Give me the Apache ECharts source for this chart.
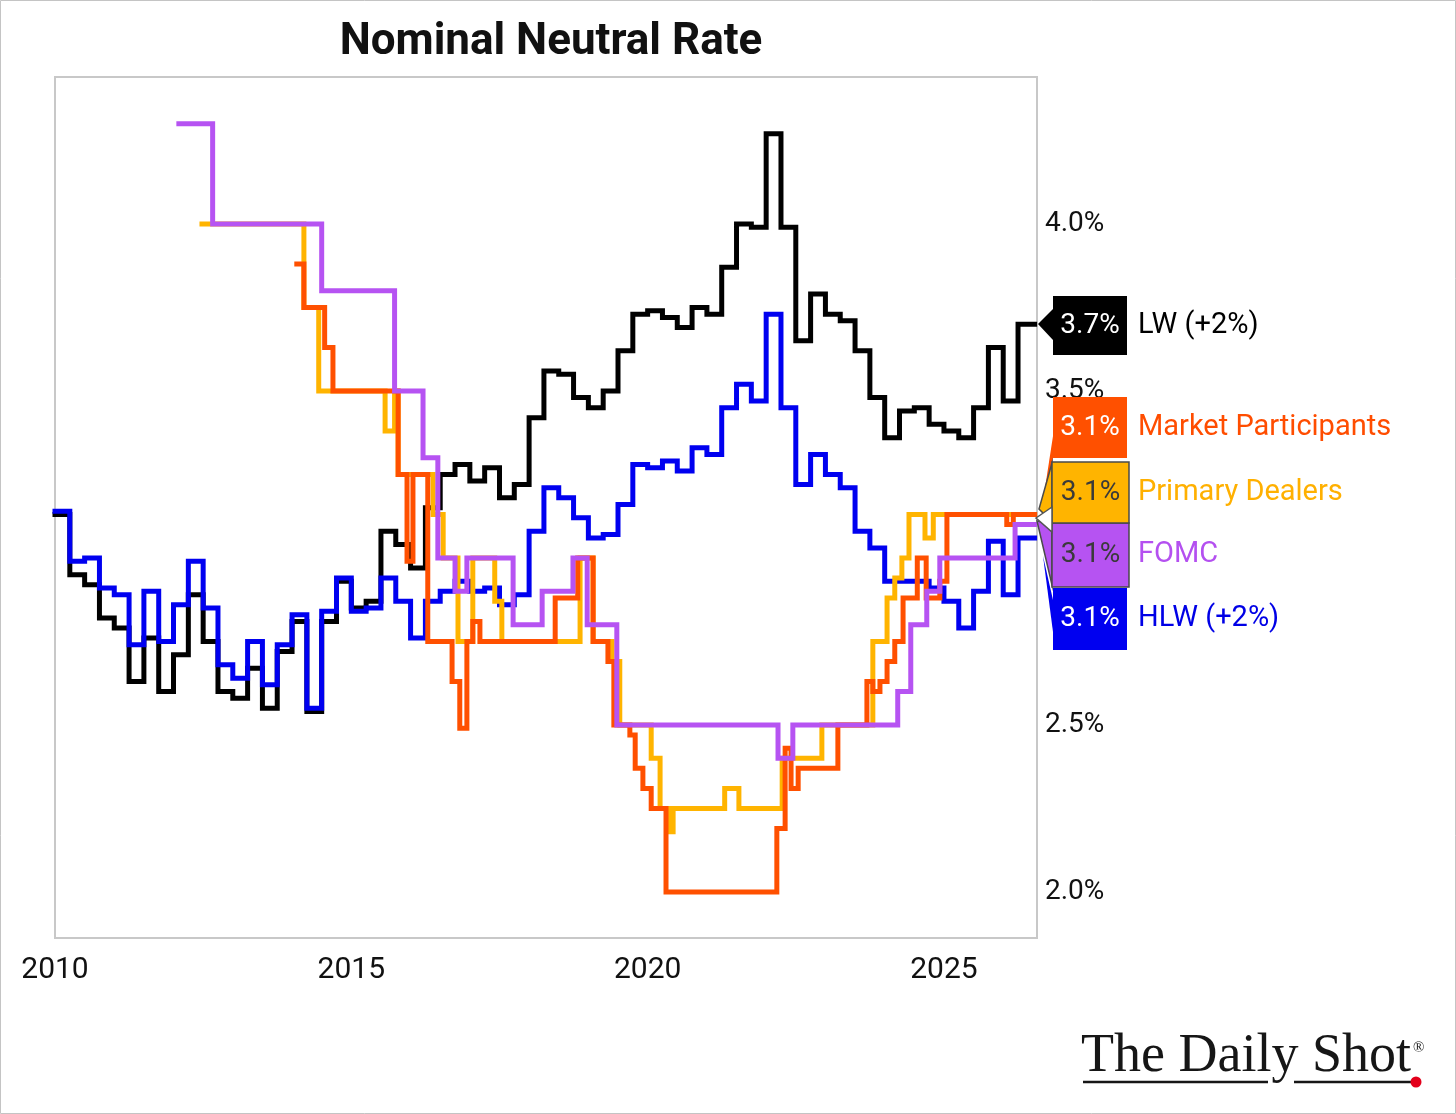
<!DOCTYPE html>
<html>
<head>
<meta charset="utf-8">
<title>Nominal Neutral Rate</title>
<script src="https://cdn.jsdelivr.net/npm/echarts@6.0.0/dist/echarts.min.js"></script>
<style>
  html, body { margin: 0; padding: 0; background: #fff; }
  #chart { width: 1456px; height: 1114px; }
</style>
</head>
<body>
<div id="chart"></div>
<script>
  // quarterly model estimates (2010Q1 ..), already shifted +2%
  var lwValues = [
    3.13, 2.95, 2.92, 2.82, 2.79, 2.63, 2.76, 2.60, 2.71, 2.89,
    2.75, 2.60, 2.58, 2.67, 2.55, 2.72, 2.81, 2.54, 2.81, 2.93,
    2.85, 2.87, 3.08, 3.04, 2.97, 3.15, 3.25, 3.28, 3.23, 3.27,
    3.18, 3.22, 3.42, 3.56, 3.55, 3.48, 3.45, 3.50, 3.62, 3.73,
    3.74, 3.72, 3.69, 3.75, 3.73, 3.87, 4.00, 3.99, 4.27, 3.99,
    3.65, 3.79, 3.73, 3.71, 3.62, 3.48, 3.36, 3.44, 3.45, 3.40,
    3.38, 3.36, 3.45, 3.63, 3.47, 3.70
  ]
  var hlwValues = [
    3.14, 2.99, 3.00, 2.91, 2.89, 2.74, 2.90, 2.75, 2.86, 2.99,
    2.85, 2.68, 2.64, 2.75, 2.62, 2.74, 2.83, 2.55, 2.84, 2.94,
    2.84, 2.85, 2.94, 2.87, 2.76, 2.87, 2.90, 2.93, 2.90, 2.91,
    2.86, 2.89, 3.08, 3.21, 3.18, 3.12, 3.06, 3.07, 3.16, 3.28,
    3.27, 3.29, 3.26, 3.33, 3.31, 3.45, 3.52, 3.47, 3.73, 3.45,
    3.22, 3.31, 3.25, 3.21, 3.08, 3.03, 2.93, 2.93, 2.93, 2.91,
    2.87, 2.79, 2.90, 3.05, 2.89, 3.06
  ]

  // survey medians, dates as decimal years
  var fomcDates = [2012.09, 2012.66, 2014.50, 2015.73, 2016.21, 2016.46, 2016.75, 2016.95, 2017.73, 2018.22,
    2018.74, 2018.98, 2019.48, 2022.20, 2022.45, 2024.22, 2024.44, 2024.71, 2024.93, 2026.20]
  var fomcValues = [4.30, 4.00, 3.80, 3.50, 3.30, 3.00, 2.90, 3.00, 2.80, 2.90,
    3.00, 2.80, 2.50, 2.40, 2.50, 2.60, 2.80, 2.90, 3.00, 3.10]

  var dealerDates = [2012.48, 2014.20, 2014.45, 2015.57, 2015.73, 2015.79, 2016.38, 2016.55, 2016.80, 2017.05,
    2017.42, 2017.54, 2018.86, 2019.08, 2019.40, 2019.53, 2020.06, 2020.21, 2020.36, 2020.43,
    2021.30, 2021.54, 2022.27, 2022.94, 2023.80, 2024.04, 2024.17, 2024.29, 2024.41, 2024.68, 2024.82]
  var dealerValues = [4.00, 3.75, 3.50, 3.38, 3.50, 3.25, 3.13, 3.00, 2.75, 3.00,
    2.87, 2.75, 3.00, 2.75, 2.69, 2.50, 2.40, 2.25, 2.18, 2.25,
    2.31, 2.25, 2.40, 2.50, 2.75, 2.88, 2.94, 3.00, 3.13, 3.06, 3.13]

  var marketDates = [2014.08, 2014.20, 2014.55, 2014.69, 2015.79, 2015.94, 2016.04, 2016.29, 2016.70, 2016.83,
    2016.95, 2017.05, 2017.17, 2018.44, 2018.82, 2019.08, 2019.33, 2019.43, 2019.70, 2019.79,
    2019.92, 2020.06, 2020.31, 2022.18, 2022.32, 2022.42, 2022.54, 2023.21, 2023.70, 2023.80,
    2023.92, 2024.04, 2024.17, 2024.31, 2024.55, 2024.70, 2024.93, 2025.05, 2026.06, 2026.17]
  var marketValues = [3.88, 3.75, 3.63, 3.50, 3.25, 2.99, 3.25, 2.75, 2.63, 2.49,
    2.75, 2.81, 2.75, 2.88, 3.00, 2.75, 2.69, 2.50, 2.47, 2.37,
    2.31, 2.25, 2.00, 2.19, 2.43, 2.31, 2.37, 2.50, 2.63, 2.60,
    2.63, 2.69, 2.75, 2.88, 3.00, 2.88, 2.93, 3.13, 3.10, 3.13]

  var xTicks = [2010, 2015, 2020, 2025]
  var yTicks = [2.0, 2.5, 3.0, 3.5, 4.0]
  var lastDate = 2026.53

  var quarters = lwValues.map(function (v, i) { return 2010 + i * 0.25 })

  function pairs (dates, values) {
    var out = dates.map(function (d, i) { return [d, values[i]] })
    out.push([lastDate, values[values.length - 1]])
    return out
  }

  function stepLine (name, color, data, z) {
    return {
      name: name,
      type: 'line',
      step: 'end',
      showSymbol: false,
      z: z,
      lineStyle: { color: color, width: 5, cap: 'square', join: 'miter' },
      itemStyle: { color: color },
      data: data
    }
  }

  var font = 'Roboto, "Open Sans", sans-serif'

  // callout box at the right end of a line
  function callout (opt) {
    var els = []
    if (opt.tail) {
      els.push({ type: 'polygon', z: 100, shape: { points: opt.tail },
        style: { fill: opt.fill, stroke: opt.border || opt.fill, lineWidth: opt.border ? 1.5 : 0 } })
    }
    els.push({ type: 'rect', z: 101,
      shape: { x: opt.x, y: opt.y, width: opt.w, height: opt.h },
      style: { fill: opt.fill, stroke: opt.border || opt.fill, lineWidth: opt.border ? 1.5 : 0 } })
    els.push({ type: 'text', z: 102, x: opt.x + opt.w / 2, y: opt.y + opt.h / 2,
      style: { text: opt.num, fill: opt.numColor, font: '28px ' + font, align: 'center', verticalAlign: 'middle' } })
    els.push({ type: 'text', z: 102, x: 1138, y: opt.y + opt.h / 2,
      style: { text: opt.name, fill: opt.nameColor, font: '29px ' + font, align: 'left', verticalAlign: 'middle' } })
    return els
  }

  var graphics = [
    { type: 'rect', z: -10, silent: true, shape: { x: 0.5, y: 0.5, width: 1455, height: 1113 },
      style: { fill: 'none', stroke: '#c4c4c4', lineWidth: 1 } }
  ]
  graphics = graphics.concat(
    callout({ x: 1053, y: 397, w: 74, h: 61, fill: '#ff5000', tail: [[1053, 436], [1041, 514], [1053, 458]],
      num: '3.1%', numColor: '#fff', name: 'Market Participants', nameColor: '#ff4d00' }),
    callout({ x: 1053, y: 588, w: 74, h: 62, fill: '#0000f0', tail: [[1053, 600], [1043, 556], [1053, 632]],
      num: '3.1%', numColor: '#fff', name: 'HLW (+2%)', nameColor: '#0000e6' }),
    callout({ x: 1052, y: 523, w: 77, h: 64, fill: '#b653f2', border: '#4a4a4a', tail: [[1052, 524], [1037, 521], [1052, 585]],
      num: '3.1%', numColor: '#3a3a3a', name: 'FOMC', nameColor: '#b450f0' }),
    callout({ x: 1052, y: 462, w: 77, h: 61, fill: '#ffb400', border: '#4a4a4a', tail: [[1052, 463], [1039, 509], [1052, 522]],
      num: '3.1%', numColor: '#3a3a3a', name: 'Primary Dealers', nameColor: '#ffb000' }),
    [{ type: 'polygon', z: 103, shape: { points: [[1052, 507], [1036, 518], [1052, 532]] },
      style: { fill: '#fff', stroke: '#555', lineWidth: 1.5 } }],
    callout({ x: 1053, y: 296, w: 74, h: 59, fill: '#000', tail: [[1053, 309], [1038, 324], [1053, 340]],
      num: '3.7%', numColor: '#fff', name: 'LW (+2%)', nameColor: '#000' })
  )

  // The Daily Shot mark
  graphics.push(
    { type: 'text', z: 100, x: 1081, y: 1057,
      style: { text: 'The Daily Shot', fill: '#161616', font: '54px "Liberation Serif", serif', align: 'left', verticalAlign: 'middle' } },
    { type: 'text', z: 100, x: 1413, y: 1048,
      style: { text: '\u00ae', fill: '#161616', font: '15px "Liberation Serif", serif', align: 'left', verticalAlign: 'middle' } },
    { type: 'line', z: 100, shape: { x1: 1083, y1: 1082, x2: 1268, y2: 1082 }, style: { stroke: '#161616', lineWidth: 2.5 } },
    { type: 'line', z: 100, shape: { x1: 1294, y1: 1082, x2: 1414, y2: 1082 }, style: { stroke: '#161616', lineWidth: 2.5 } },
    { type: 'circle', z: 101, shape: { cx: 1416, cy: 1082, r: 5.5 }, style: { fill: '#e3001b' } }
  )

  var option = {
    animation: false,
    backgroundColor: '#fff',
    title: {
      text: 'Nominal Neutral Rate',
      left: 546,
      textAlign: 'center',
      top: 16,
      textStyle: { fontFamily: font, fontSize: 44, fontWeight: 'bold', color: '#111' }
    },
    grid: {
      left: 55, right: 419, top: 77, bottom: 176,
      show: true, borderColor: '#c8c8c8', borderWidth: 2, backgroundColor: '#fff'
    },
    xAxis: {
      type: 'value',
      min: 2010,
      max: 2026.57,
      axisLine: { show: false },
      axisTick: { show: false },
      splitLine: { show: false },
      axisLabel: {
        customValues: xTicks,
        fontFamily: font, fontSize: 30, color: '#111', margin: 17,
        formatter: function (v) { return String(v) }
      }
    },
    yAxis: {
      type: 'value',
      position: 'right',
      min: 1.862,
      max: 4.44,
      axisLine: { show: false },
      axisTick: { show: false },
      splitLine: { show: false },
      axisLabel: {
        customValues: yTicks,
        fontFamily: font, fontSize: 28, color: '#111', margin: 8,
        formatter: function (v) { return v.toFixed(1) + '%' }
      }
    },
    series: [
      stepLine('LW (+2%)', '#000000', pairs(quarters, lwValues), 1),
      stepLine('HLW (+2%)', '#0000f0', pairs(quarters, hlwValues), 2),
      stepLine('Primary Dealers', '#ffb400', pairs(dealerDates, dealerValues), 3),
      stepLine('Market Participants', '#ff5000', pairs(marketDates, marketValues), 4),
      stepLine('FOMC', '#b653f2', pairs(fomcDates, fomcValues), 5)
    ],
    graphic: graphics
  }

  var myChart = echarts.init(document.getElementById('chart'))
  myChart.setOption(option)
</script>
</body>
</html>
